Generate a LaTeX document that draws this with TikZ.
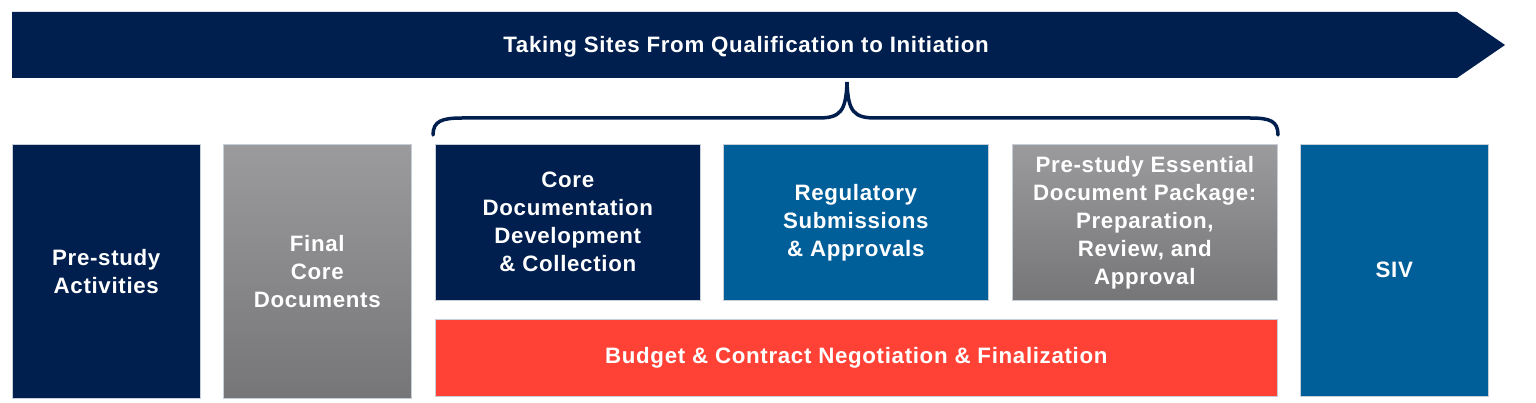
\documentclass[tikz,border=0pt]{standalone}
\usepackage{fontspec}
\setmainfont{Liberation Sans}[LetterSpace=3]
\definecolor{navy}{RGB}{0,31,78}
\definecolor{midblue}{RGB}{0,94,153}
\definecolor{redbox}{RGB}{255,65,54}
\definecolor{graytop}{RGB}{155,155,157}
\definecolor{graybot}{RGB}{118,118,121}
\definecolor{edge}{RGB}{200,206,216}
\begin{document}
\begin{tikzpicture}[x=1pt,y=-1pt,
  box/.style={draw=edge, line width=0.6pt, anchor=north west, inner sep=0pt,
    text=white, align=center, font=\bfseries\fontsize{22.3}{28}\selectfont},
  navybox/.style={box, fill=navy},
  bluebox/.style={box, fill=midblue},
  redbx/.style={box, fill=redbox},
  graybox/.style={box, top color=graytop, bottom color=graybot},
]
\useasboundingbox (0,0) rectangle (1536,403);
% banner arrow
\fill[navy] (12,12) -- (1457,12) -- (1505,45) -- (1457,78) -- (12,78) -- cycle;
\node[text=white, font=\bfseries\fontsize{22.3}{24}\selectfont] (title) at (746,47) {Taking Sites From Qualification to Initiation};
% boxes
\node[navybox, minimum width=188pt, minimum height=254pt] (pre) at (12,144) {Pre-study\\Activities};
\node[graybox, minimum width=188pt, minimum height=254pt] (final) at (223,144) {Final\\Core\\Documents};
\node[navybox, minimum width=265pt, minimum height=156pt] (core) at (435,144) {Core\\Documentation\\Development\\\& Collection};
\node[bluebox, minimum width=265pt, minimum height=156pt] (reg) at (723,144) {Regulatory\\Submissions\\\& Approvals};
\node[graybox, minimum width=265pt, minimum height=156pt] (ess) at (1012,144) {Pre-study Essential\\Document Package:\\Preparation,\\Review, and\\Approval};
\node[redbx, minimum width=842pt, minimum height=77pt] (budget) at (435,319) {Budget \& Contract Negotiation \& Finalization};
\node[bluebox, minimum width=188pt, minimum height=252pt] (siv) at (1300,144) {SIV};
% brace
\draw[navy, line width=3.5pt, line cap=round]
  (433,135) .. controls (433,121) and (442,118) .. (462,118) -- (818,118)
  .. controls (840,118) and (846,112) .. (847,82)
  .. controls (848,112) and (854,118) .. (876,118) -- (1250,118)
  .. controls (1270,118) and (1278,121) .. (1278,135);
\end{tikzpicture}
\end{document}
